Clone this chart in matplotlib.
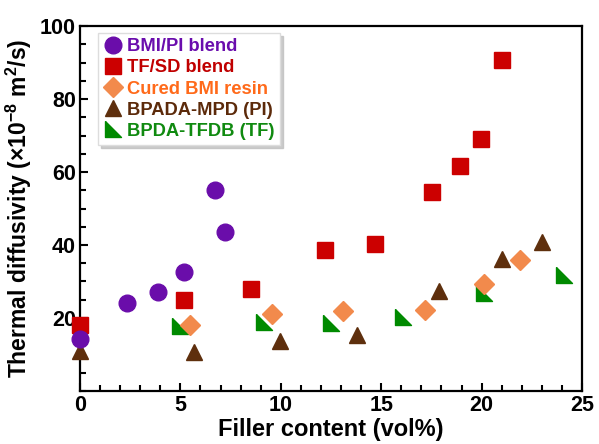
import matplotlib.pyplot as plt
from matplotlib.ticker import MultipleLocator

plt.rcParams['font.family'] = ['Liberation Sans', 'DejaVu Sans']
plt.rcParams['mathtext.fontset'] = 'custom'
plt.rcParams['mathtext.rm'] = 'Liberation Sans'
plt.rcParams['mathtext.default'] = 'regular'

# BMI/PI blend
bmi_pi_x = [0.0, 2.35, 3.9, 5.2, 6.7, 7.2]
bmi_pi_y = [14.2, 24.1, 27.1, 32.6, 55.1, 43.6]

# TF/SD blend
tf_sd_x = [0.0, 5.2, 8.5, 12.2, 14.7, 17.55, 18.9, 19.95, 21.0]
tf_sd_y = [18.0, 24.9, 27.9, 38.6, 40.3, 54.5, 61.6, 69.0, 90.7]

# Cured BMI resin
bmi_resin_x = [5.5, 9.55, 13.1, 17.2, 20.1, 21.9]
bmi_resin_y = [18.1, 21.1, 21.9, 22.2, 29.3, 35.9]

# BPADA-MPD (PI)
pi_x = [0.0, 5.7, 9.95, 13.8, 17.9, 21.0, 23.0]
pi_y = [11.0, 10.7, 13.7, 15.3, 27.4, 36.2, 40.8]

# BPDA-TFDB (TF)
tf_x = [5.0, 9.15, 12.5, 16.1, 20.1, 24.1]
tf_y = [17.8, 18.9, 18.6, 20.3, 26.8, 31.8]

labels = ['BMI/PI blend', 'TF/SD blend', 'Cured BMI resin',
          'BPADA-MPD (PI)', 'BPDA-TFDB (TF)']
text_colors = ['#6A0DAD', '#C00000', '#FF6A1A', '#5C2A0A', '#108A10']

# right triangle, right angle at the bottom left
rtri = [(-1, 1), (-1, -1), (1, -1), (-1, 1)]

fig = plt.figure(figsize=(5.99, 4.44), dpi=100)
ax = fig.add_axes([0.1336, 0.1194, 0.8380, 0.8220])

kw = dict(ls='none', clip_on=False)
ax.plot(tf_x, tf_y, marker=rtri, ms=11.5, color='#008A00',
        mec='#008A00', zorder=2, label=labels[4], **kw)
ax.plot(pi_x, pi_y, marker='^', ms=11, color='#5E2F0D',
        mec='#5E2F0D', zorder=3, label=labels[3], **kw)
ax.plot(bmi_resin_x, bmi_resin_y, marker='D', ms=10, color='#F28A4C',
        mec='#F28A4C', zorder=4, label=labels[2], **kw)
ax.plot(tf_sd_x, tf_sd_y, marker='s', ms=11.5, color='#CC0000',
        mec='#CC0000', zorder=5, label=labels[1], **kw)
ax.plot(bmi_pi_x, bmi_pi_y, marker='o', ms=12, color='#6A0DAA',
        mec='#6A0DAA', zorder=6, label=labels[0], **kw)

ax.set_xlim(0, 25)
ax.set_ylim(0, 100)
ax.xaxis.set_major_locator(MultipleLocator(5))
ax.xaxis.set_minor_locator(MultipleLocator(1))
ax.yaxis.set_major_locator(MultipleLocator(20))
ax.yaxis.set_minor_locator(MultipleLocator(5))
ax.set_yticks([20, 40, 60, 80, 100])
ax.tick_params(which='both', direction='in', width=1.5, labelsize=15.5)
ax.tick_params(which='major', length=6, pad=3)
ax.tick_params(which='minor', length=4)
for lab in ax.get_xticklabels() + ax.get_yticklabels():
    lab.set_fontweight('bold')
for sp in ax.spines.values():
    sp.set_linewidth(1.6)

ax.set_xlabel('Filler content (vol%)', fontsize=17, fontweight='bold', labelpad=1)
ax.set_ylabel('Thermal diffusivity (×10$^{-8}$ m$^{2}$/s)', fontsize=16.5,
              fontweight='bold', labelpad=4)

handles, labs = ax.get_legend_handles_labels()
handles = handles[::-1]
labs = labs[::-1]
leg = ax.legend(handles, labs, loc='upper left', bbox_to_anchor=(0.036, 0.981),
                prop={'weight': 'bold', 'size': 13.2}, labelcolor=text_colors,
                fancybox=False, shadow={'color': '0.75', 'alpha': 0.8},
                edgecolor='#DDDDDD', framealpha=1,
                handletextpad=0.3, handlelength=1.0, borderpad=0.3,
                labelspacing=0.22, borderaxespad=0)

fig.savefig('out.png', dpi=100)
